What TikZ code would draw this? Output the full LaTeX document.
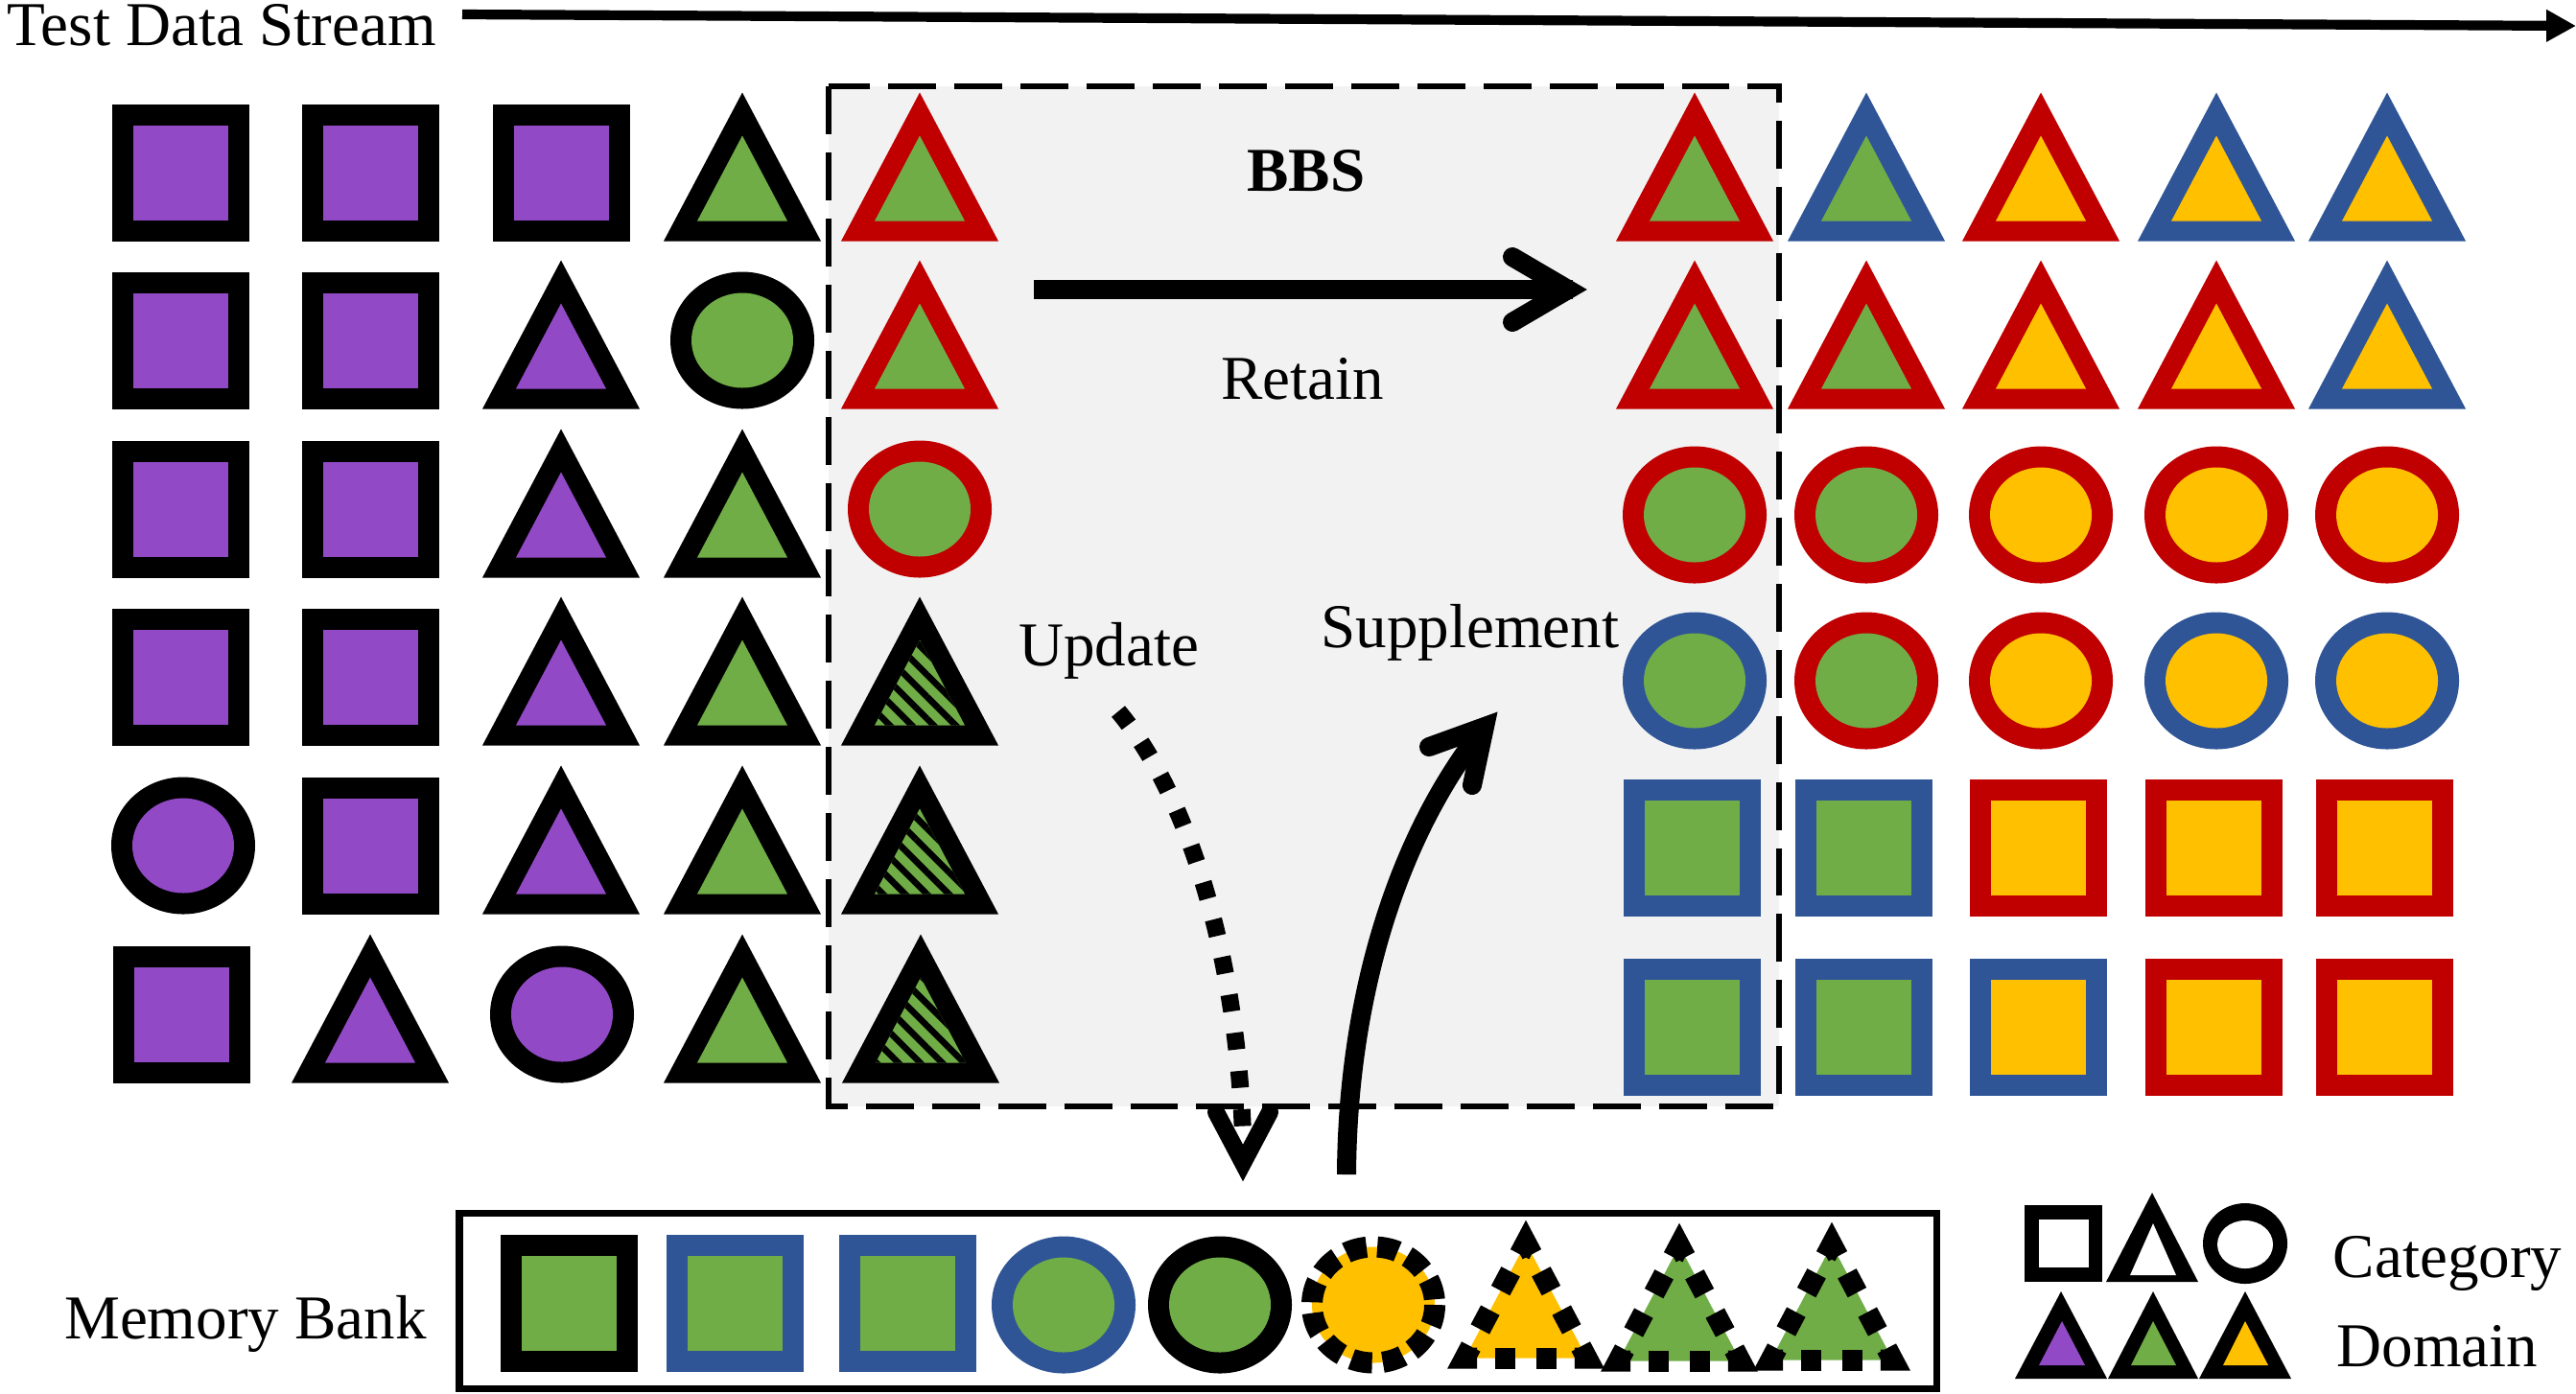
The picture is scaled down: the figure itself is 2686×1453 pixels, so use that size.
\documentclass[tikz,border=0pt]{standalone}
\usepackage{fontspec}
\setmainfont{Liberation Serif}
\usetikzlibrary{patterns.meta,arrows.meta,calc}
\definecolor{cP}{HTML}{9249C6}
\definecolor{cG}{HTML}{70AD47}
\definecolor{cY}{HTML}{FFC000}
\definecolor{cR}{HTML}{C00000}
\definecolor{cB}{HTML}{2F5597}
\definecolor{cK}{HTML}{000000}
\definecolor{cW}{HTML}{FFFFFF}
\definecolor{cGray}{HTML}{F2F2F2}
% square: cx, cy, border, fill
\newcommand\ShSq[4]{%
 \fill[#3] ({#1-71.5},{#2-71.5}) rectangle ({#1+71.5},{#2+71.5});
 \fill[#4] ({#1-49.5},{#2-49.5}) rectangle ({#1+49.5},{#2+49.5});}
% circle
\newcommand\ShCi[4]{%
 \fill[#3] (#1,#2) ellipse [x radius=75, y radius=71.5];
 \fill[#4] (#1,#2) ellipse [x radius=53, y radius=49.5];}
% triangle
\newcommand\ShTr[4]{%
 \fill[#3] ({#1-82},{#2+71.5}) -- (#1,{#2-83.5}) -- ({#1+82},{#2+71.5}) -- cycle;
 \fill[#4] ({#1-47},{#2+50.5}) -- (#1,{#2-38.5}) -- ({#1+47},{#2+50.5}) -- cycle;}
% hatched triangle
\newcommand\ShTrH[2]{%
 \fill[cK] ({#1-82},{#2+71.5}) -- (#1,{#2-83.5}) -- ({#1+82},{#2+71.5}) -- cycle;
 \fill[cG] ({#1-47},{#2+50.5}) -- (#1,{#2-38.5}) -- ({#1+47},{#2+50.5}) -- cycle;
 \fill[pattern={Lines[angle=-45,distance=4.6pt,line width=1.9pt]},pattern color=black]
   ({#1-47},{#2+50.5}) -- (#1,{#2-38.5}) -- ({#1+47},{#2+50.5}) -- cycle;}
% dotted triangle: cx, cy, fill
\tikzset{dsh/.style={cK,line width=6.26pt,line join=miter}}
\newcommand\DEdge[2]{%
 \draw[dsh] ($(#1)!0.25!(#2)$) -- ($(#1)!0.415!(#2)$);
 \draw[dsh] ($(#1)!0.585!(#2)$) -- ($(#1)!0.75!(#2)$);}
\newcommand\DCorner[3]{%
 \draw[dsh] ($(#2)!0.1!(#1)$) -- (#2) -- ($(#2)!0.1!(#3)$);}
\newcommand\ShTrD[3]{%
 \coordinate (dA) at (#1,{#2-59.8});
 \coordinate (dR) at ({#1+63.6},{#2+60.5});
 \coordinate (dL) at ({#1-63.6},{#2+60.5});
 \fill[#3] (dL) -- (dA) -- (dR) -- cycle;
 \DEdge{dA}{dR}\DEdge{dR}{dL}\DEdge{dL}{dA}
 \DCorner{dL}{dA}{dR}\DCorner{dA}{dR}{dL}\DCorner{dR}{dL}{dA}}
\tikzset{lbl/.style={inner sep=0pt,font=\fontsize{18.5pt}{22pt}\selectfont}}
\begin{document}
\begin{tikzpicture}[x=0.01cm,y=-0.01cm]
\useasboundingbox (0,0) rectangle (2686,1453);
\fill[white] (0,0) rectangle (2686,1453);
% dashed BBS box
\fill[cGray] (864,90) rectangle (1855,1154);
\draw[cK,line width=1.85pt,dash pattern=on 14.2pt off 5.4pt] (864,90) rectangle (1855,1154);
% ----- left grid -----
\ShSq{188}{180}{cK}{cP}\ShSq{386}{180}{cK}{cP}\ShSq{585}{180}{cK}{cP}\ShTr{774}{180}{cK}{cG}\ShTr{959}{180}{cR}{cG}
\ShSq{188}{355}{cK}{cP}\ShSq{386}{355}{cK}{cP}\ShTr{585}{355}{cK}{cP}\ShCi{774}{355}{cK}{cG}\ShTr{959}{355}{cR}{cG}
\ShSq{188}{531}{cK}{cP}\ShSq{386}{531}{cK}{cP}\ShTr{585}{531}{cK}{cP}\ShTr{774}{531}{cK}{cG}\ShCi{959}{531}{cR}{cG}
\ShSq{188}{706}{cK}{cP}\ShSq{386}{706}{cK}{cP}\ShTr{585}{706}{cK}{cP}\ShTr{774}{706}{cK}{cG}\ShTrH{959}{706}
\ShCi{191}{882}{cK}{cP}\ShSq{386}{882}{cK}{cP}\ShTr{585}{882}{cK}{cP}\ShTr{774}{882}{cK}{cG}\ShTrH{959}{882}
\ShSq{189}{1058}{cK}{cP}\ShTr{386}{1058}{cK}{cP}\ShCi{586}{1058}{cK}{cP}\ShTr{774}{1058}{cK}{cG}\ShTrH{960}{1058}
% ----- right grid -----
\ShTr{1767}{180}{cR}{cG}\ShTr{1946}{180}{cB}{cG}\ShTr{2128}{180}{cR}{cY}\ShTr{2311}{180}{cB}{cY}\ShTr{2489}{180}{cB}{cY}
\ShTr{1767}{355}{cR}{cG}\ShTr{1946}{355}{cR}{cG}\ShTr{2128}{355}{cR}{cY}\ShTr{2311}{355}{cR}{cY}\ShTr{2489}{355}{cB}{cY}
\ShCi{1767}{537}{cR}{cG}\ShCi{1946}{537}{cR}{cG}\ShCi{2128}{537}{cR}{cY}\ShCi{2311}{537}{cR}{cY}\ShCi{2489}{537}{cR}{cY}
\ShCi{1767}{710}{cB}{cG}\ShCi{1946}{710}{cR}{cG}\ShCi{2128}{710}{cR}{cY}\ShCi{2311}{710}{cB}{cY}\ShCi{2489}{710}{cB}{cY}
\ShSq{1764}{884}{cB}{cG}\ShSq{1943}{884}{cB}{cG}\ShSq{2125}{884}{cR}{cY}\ShSq{2308}{884}{cR}{cY}\ShSq{2486}{884}{cR}{cY}
\ShSq{1764}{1071}{cB}{cG}\ShSq{1943}{1071}{cB}{cG}\ShSq{2125}{1071}{cB}{cY}\ShSq{2308}{1071}{cR}{cY}\ShSq{2486}{1071}{cR}{cY}
% ----- memory bank -----
\draw[cK,line width=2pt] (479,1265) rectangle (2019,1448);
\ShSq{593}{1359}{cK}{cG}\ShSq{766}{1359}{cB}{cG}\ShSq{946}{1359}{cB}{cG}
\ShCi{1109}{1361}{cB}{cG}\ShCi{1272}{1361}{cK}{cG}
\fill[cY] (1432,1361) ellipse [x radius=64, y radius=60.5];
\draw[cK,line width=6.26pt,dash pattern=on 6.2pt off 3.2pt] (1432,1361) ellipse [x radius=64, y radius=60.5];
\ShTrD{1591}{1356}{cY}\ShTrD{1751}{1359}{cG}\ShTrD{1910}{1358}{cG}
% ----- legend -----
\fill[cK] (2111,1257) rectangle (2192,1337); \fill[cW] (2126,1272) rectangle (2178,1322);
\fill[cK] (2196,1337) -- (2244,1244) -- (2292,1337) -- cycle; \fill[cW] (2221,1330) -- (2245,1276) -- (2269,1330) -- cycle;
\fill[cK] (2341,1297) ellipse [x radius=44, y radius=42]; \fill[cW] (2341,1298) ellipse [x radius=29, y radius=25];
\fill[cK] (2101,1438) -- (2149,1347) -- (2197,1438) -- cycle; \fill[cP] (2126,1424) -- (2150,1378) -- (2174,1424) -- cycle;
\fill[cK] (2198,1438) -- (2245,1347) -- (2292,1438) -- cycle; \fill[cG] (2222,1424) -- (2245,1378) -- (2269,1424) -- cycle;
\fill[cK] (2293,1438) -- (2341,1347) -- (2389,1438) -- cycle; \fill[cY] (2318,1424) -- (2341,1378) -- (2365,1424) -- cycle;
% ----- texts -----
\node[lbl,anchor=base west] (ts) at (7,47) {Test Data Stream};
\node[lbl,anchor=base,font=\fontsize{18.5pt}{22pt}\selectfont\bfseries] (bbs) at (1362,199) {BBS};
\node[lbl,anchor=base] (ret) at (1358,416) {Retain};
\node[lbl,anchor=base] (upd) at (1156,694) {Update};
\node[lbl,anchor=base] (sup) at (1533,675) {Supplement};
\node[lbl,anchor=base] (mb) at (256,1396) {Memory Bank};
\node[lbl,anchor=base west] (cat) at (2432,1332) {Category};
\node[lbl,anchor=base west] (dom) at (2436,1425) {Domain};
% ----- arrows -----
\coordinate (tsA) at (482,15); \coordinate (tsB) at (2686,27);
\draw[cK,line width=2.9pt,-{Triangle[length=8.8pt,width=9pt]}] (tsA) -- (tsB);
\coordinate (bbsA) at (1078,302); \coordinate (bbsB) at (1640,302);
\coordinate (bbsT) at (1635,302); \coordinate (bbsL) at (1577,268); \coordinate (bbsR) at (1577,336);
\draw[cK,line width=5.69pt] (bbsA) -- (bbsB);
\draw[cK,line width=5.69pt,line cap=round,line join=miter] (bbsL) -- (bbsT) -- (bbsR);
\coordinate (updA) at (1166,742); \coordinate (updB) at (1296,1185);
\coordinate (updT) at (1296,1213); \coordinate (updL) at (1268,1160); \coordinate (updR) at (1324,1160);
\draw[cK,line width=5.12pt,dash pattern=on 5pt off 6.4pt] (updA) .. controls (1240,830) and (1290,1000) .. (updB);
\draw[cK,line width=5.12pt,line cap=round,line join=miter] (updL) -- (updT) -- (updR);
\coordinate (supA) at (1404,1225); \coordinate (supT) at (1548,758);
\coordinate (supL) at (1490,779); \coordinate (supR) at (1535,819);
\draw[cK,line width=5.69pt] (supA) .. controls (1405,1050) and (1452,878) .. (supT);
\draw[cK,line width=5.69pt,line cap=round,line join=miter] (supL) -- (supT) -- (supR);
\end{tikzpicture}
\end{document}
